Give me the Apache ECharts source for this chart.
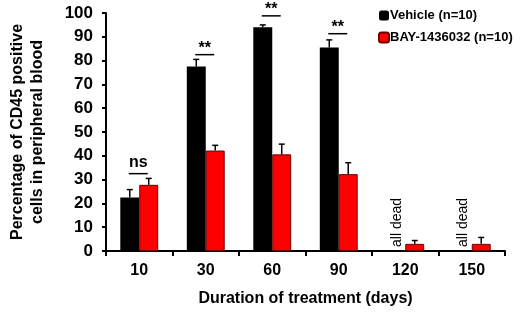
<!DOCTYPE html>
<html>
<head>
<meta charset="utf-8">
<script src="https://cdn.jsdelivr.net/npm/echarts@6/dist/echarts.min.js"></script>
<style>
  html, body { margin: 0; padding: 0; background: #fff; }
  #main { width: 520px; height: 312px; }
</style>
</head>
<body>
<div id="main"></div>
<script>
// days of treatment
var days = ['10', '30', '60', '90', '120', '150'];
// mean % CD45+ cells, null = all dead
var vehicle = [22.5, 77.5, 94, 85.5, null, null];
var vehicleErr = [3.3, 3, 1, 3.2, null, null];
var bay = [27.8, 42.2, 40.6, 32.3, 3, 3];
var bayErr = [2.7, 2.2, 4.3, 4.8, 1.4, 2.7];
// significance marks
var sigIndex = [0, 1, 2, 3];
var sigLabel = ['ns', '**', '**', '**'];
var sigLevel = [32.5, 82.5, 98.8, 91.3];
// "all dead" marks
var deadIndex = [4, 5];

var FONT = '"Liberation Sans", Arial, sans-serif';
var GAP = 0.43;

var chart = echarts.init(document.getElementById('main'));

function barW(api) {
  var band = api.size([1, 0])[0];
  return band * (1 - GAP) / 2;
}

function errRender(side) {
  return function (params, api) {
    var v = api.value(1), e = api.value(2);
    if (v == null || isNaN(v)) return;
    var bw = barW(api);
    var base = api.coord([api.value(0), v]);
    var top = api.coord([api.value(0), v + e]);
    var x = base[0] + side * bw / 2;
    return {
      type: 'group',
      children: [
        { type: 'line', shape: { x1: x, y1: base[1], x2: x, y2: top[1] }, style: { stroke: '#000', lineWidth: 1.5 } },
        { type: 'line', shape: { x1: x - 3, y1: top[1], x2: x + 3, y2: top[1] }, style: { stroke: '#000', lineWidth: 1.5 } }
      ]
    };
  };
}

var vehErrData = vehicle.map(function (v, i) { return [i, v, vehicleErr[i]]; });
var bayErrData = bay.map(function (v, i) { return [i, v, bayErr[i]]; });
var sigData = sigIndex.map(function (idx, k) { return [idx, sigLevel[k], sigLabel[k]]; });
var deadData = deadIndex.map(function (idx) { return [idx, 0]; });

var option = {
  animation: false,
  grid: { left: 104, right: 15, top: 13, bottom: 57 },
  legend: {
    orient: 'vertical',
    left: 373,
    top: 4,
    itemWidth: 10,
    itemHeight: 10,
    itemGap: 9,
    data: ['Vehicle (n=10)', 'BAY-1436032 (n=10)'],
    textStyle: { fontFamily: FONT, fontWeight: 'bold', fontSize: 13, color: '#000', padding: [0, 0, 0, -4] }
  },
  xAxis: {
    type: 'category',
    data: days,
    name: 'Duration of treatment (days)',
    nameLocation: 'middle',
    nameGap: 40,
    nameTextStyle: { fontFamily: FONT, fontWeight: 'bold', fontSize: 16, color: '#000' },
    axisLine: { lineStyle: { color: '#000', width: 2 } },
    axisTick: { show: true, length: 5, lineStyle: { color: '#000', width: 2 } },
    axisLabel: { fontFamily: FONT, fontWeight: 'bold', fontSize: 16, color: '#000', margin: 12 }
  },
  yAxis: {
    type: 'value',
    min: 0,
    max: 100,
    interval: 10,
    name: 'Percentage of CD45 positive\ncells in peripheral blood',
    nameLocation: 'middle',
    nameGap: 58,
    nameTextStyle: { fontFamily: FONT, fontWeight: 'bold', fontSize: 16, color: '#000', lineHeight: 20 },
    splitLine: { show: false },
    axisLine: { show: true, lineStyle: { color: '#000', width: 2 } },
    axisTick: { show: true, length: 4, lineStyle: { color: '#000', width: 2 } },
    axisLabel: { fontFamily: FONT, fontWeight: 'bold', fontSize: 17, color: '#000', margin: 13 }
  },
  series: [
    {
      name: 'Vehicle (n=10)',
      type: 'bar',
      data: vehicle,
      barGap: 0,
      barCategoryGap: '43%',
      itemStyle: { color: '#000' }
    },
    {
      name: 'BAY-1436032 (n=10)',
      type: 'bar',
      data: bay,
      barGap: 0,
      barCategoryGap: '43%',
      itemStyle: { color: '#ff0000', borderColor: '#6b0000', borderWidth: 1 }
    },
    { type: 'custom', data: vehErrData, encode: { x: 0, y: 1 }, renderItem: errRender(-1), z: 5 },
    { type: 'custom', data: bayErrData, encode: { x: 0, y: 1 }, renderItem: errRender(1), z: 5 },
    {
      type: 'custom',
      data: sigData,
      encode: { x: 0, y: 1 },
      z: 5,
      renderItem: function (params, api) {
        var bw = barW(api);
        var p = api.coord([api.value(0), api.value(1)]);
        var lbl = sigLabel[params.dataIndex];
        return {
          type: 'group',
          children: [
            { type: 'line', shape: { x1: p[0] - bw / 2 - 1, y1: p[1], x2: p[0] + bw / 2 - 1, y2: p[1] }, style: { stroke: '#000', lineWidth: 1.5 } },
            {
              type: 'text',
              x: p[0] - 1,
              y: lbl === 'ns' ? p[1] - 3 : p[1] + 2,
              style: { text: lbl, fontFamily: FONT, fontWeight: 'bold', fontSize: 16, fill: '#000', align: 'center', verticalAlign: 'bottom' }
            }
          ]
        };
      }
    },
    {
      type: 'custom',
      data: deadData,
      encode: { x: 0, y: 1 },
      z: 5,
      renderItem: function (params, api) {
        var bw = barW(api);
        var p = api.coord([api.value(0), api.value(1)]);
        return {
          type: 'text',
          x: p[0] - bw / 2 + 1,
          y: p[1] - 4,
          rotation: Math.PI / 2,
          style: { text: 'all dead', fontFamily: FONT, fontSize: 14, fill: '#000', align: 'left', verticalAlign: 'middle' }
        };
      }
    }
  ]
};

chart.setOption(option);
</script>
</body>
</html>
